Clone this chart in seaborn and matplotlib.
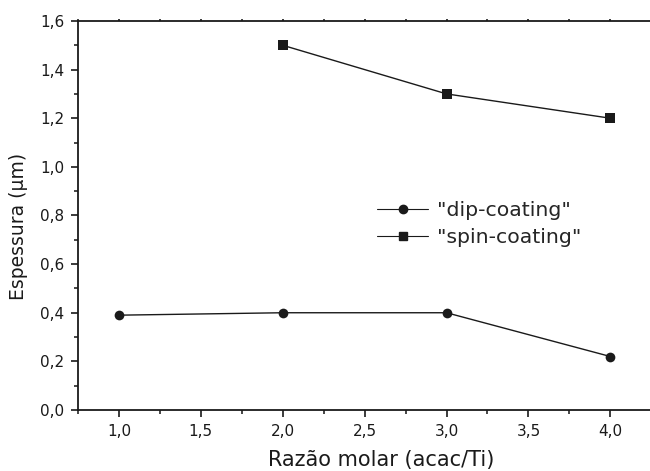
import matplotlib
matplotlib.use("Agg")
import matplotlib.pyplot as plt
import seaborn as sns
import pandas as pd
from matplotlib.ticker import MultipleLocator, FuncFormatter
from matplotlib.lines import Line2D

ratio_dip = [1.0, 2.0, 3.0, 4.0]
thick_dip = [0.39, 0.40, 0.40, 0.22]
ratio_spin = [2.0, 3.0, 4.0]
thick_spin = [1.50, 1.30, 1.20]
labels = ['"dip-coating"', '"spin-coating"']

df = pd.concat([
    pd.DataFrame({"x": ratio_dip, "y": thick_dip, "serie": labels[0]}),
    pd.DataFrame({"x": ratio_spin, "y": thick_spin, "serie": labels[1]}),
])

sns.set_style("ticks")
plt.rcParams['font.family'] = ['DejaVu Sans']

fig = plt.figure(figsize=(6.5, 4.71), dpi=100)
ax = fig.add_axes([0.12, 0.1295, 0.882, 0.826])

sns.lineplot(data=df, x="x", y="y", hue="serie", style="serie",
             markers={labels[0]: "o", labels[1]: "s"}, dashes=False,
             palette={labels[0]: "#1a1a1a", labels[1]: "#1a1a1a"},
             markersize=7, linewidth=1.0, markeredgewidth=0,
             ax=ax, legend=False)

ax.set_xlim(0.75, 4.25)
ax.set_ylim(0.0, 1.6)
ax.xaxis.set_major_locator(MultipleLocator(0.5))
ax.xaxis.set_minor_locator(MultipleLocator(0.25))
ax.yaxis.set_major_locator(MultipleLocator(0.2))
ax.yaxis.set_minor_locator(MultipleLocator(0.1))
fmt = FuncFormatter(lambda v, p: f"{v:.1f}".replace(".", ","))
ax.xaxis.set_major_formatter(fmt)
ax.yaxis.set_major_formatter(fmt)

ax.tick_params(axis="both", which="major", direction="out", length=5, width=1.2,
               labelsize=11, colors="#1a1a1a", pad=5)
ax.tick_params(axis="both", which="minor", direction="out", length=3, width=1.2)
ax.tick_params(axis="x", which="both", top=True)
for t in ax.xaxis.get_major_ticks() + ax.xaxis.get_minor_ticks():
    t.tick2line.set_markersize(1.5)
for s in ["left", "bottom", "top"]:
    ax.spines[s].set_linewidth(1.3)
    ax.spines[s].set_color("#1a1a1a")
ax.spines["right"].set_visible(False)

ax.set_xlabel("Razão molar (acac/Ti)", fontsize=15, color="#1a1a1a")
ax.set_ylabel("Espessura (µm)", fontsize=13.5, color="#1a1a1a")
ax.xaxis.set_label_coords(0.528, -0.103, transform=ax.transAxes)
ax.yaxis.set_label_coords(-0.087, 0.473, transform=ax.transAxes)

handles = [Line2D([], [], color="#1a1a1a", lw=0.8, marker="o", markersize=6),
           Line2D([], [], color="#1a1a1a", lw=0.8, marker="s", markersize=6)]
ax.legend(handles, labels, loc="center left", bbox_to_anchor=(0.522, 0.478),
          frameon=False, fontsize=14.7, handlelength=2.5, handletextpad=0.45,
          labelspacing=0.4, borderaxespad=0, borderpad=0)

fig.savefig("out.png", dpi=100)
